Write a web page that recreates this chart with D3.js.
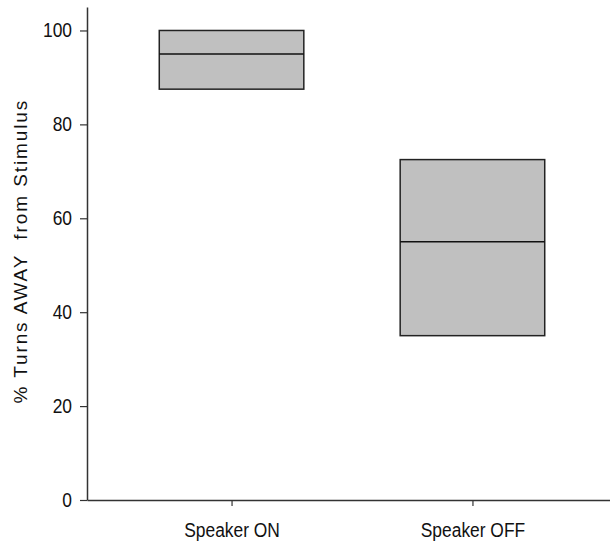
<!DOCTYPE html>
<html>
<head>
<meta charset="utf-8">
<script src="https://cdn.jsdelivr.net/npm/d3@7"></script>
<style>
  html, body { margin: 0; padding: 0; background: #fff; }
  svg { display: block; }
  text { font-family: "Liberation Sans", Arial, sans-serif; fill: #111; }
</style>
</head>
<body>
<svg id="chart" width="610" height="543"></svg>
<script>
// Condition labels and the box summaries (lower edge, median, upper edge), in %
const categories = ["Speaker ON", "Speaker OFF"];
const lows = [87.5, 35];
const medians = [95, 55];
const highs = [100, 72.5];
const yTicks = [0, 20, 40, 60, 80, 100];

const svg = d3.select("#chart");

const y = d3.scaleLinear().domain([0, 105]).range([500, 7]);
const x = d3.scaleLinear().domain([0.4, 2.6]).range([87, 617]);
const halfWidth = 0.3;

const axisColor = "#333";
// Tick labels use a horizontally condensed sans face
const squeeze = 0.87;

// Boxes
const boxes = svg.append("g")
  .selectAll("g")
  .data(categories.map((c, i) => ({ c, pos: i + 1, lo: lows[i], med: medians[i], hi: highs[i] })))
  .join("g");

boxes.append("rect")
  .attr("x", d => x(d.pos - halfWidth))
  .attr("width", d => x(d.pos + halfWidth) - x(d.pos - halfWidth))
  .attr("y", d => y(d.hi))
  .attr("height", d => y(d.lo) - y(d.hi))
  .attr("fill", "#c0c0c0")
  .attr("stroke", "#222")
  .attr("stroke-width", 1.5);

boxes.append("line")
  .attr("x1", d => x(d.pos - halfWidth))
  .attr("x2", d => x(d.pos + halfWidth))
  .attr("y1", d => y(d.med))
  .attr("y2", d => y(d.med))
  .attr("stroke", "#111")
  .attr("stroke-width", 1.5);

// Y axis
const yAxis = svg.append("g")
  .attr("transform", `translate(${x(0.4)},0)`)
  .call(d3.axisLeft(y).tickValues(yTicks).tickSize(7).tickPadding(8).tickSizeOuter(0));
yAxis.select(".domain").attr("stroke", axisColor).attr("stroke-width", 1.5);
yAxis.selectAll(".tick line").attr("stroke", axisColor).attr("stroke-width", 1.2);
yAxis.selectAll(".tick text")
  .style("font-size", "20px")
  .attr("fill", "#111")
  .attr("x", -15 / squeeze)
  .attr("transform", `scale(${squeeze},1)`);

// X axis
const xAxis = svg.append("g")
  .attr("transform", `translate(0,${y(0)})`)
  .call(d3.axisBottom(x).tickValues([1, 2]).tickFormat(d => categories[d - 1])
    .tickSize(6).tickPadding(17).tickSizeOuter(0));
xAxis.select(".domain").attr("stroke", axisColor).attr("stroke-width", 1.5);
xAxis.selectAll(".tick line").attr("stroke", axisColor).attr("stroke-width", 1.2);
xAxis.selectAll(".tick text")
  .style("font-size", "20px")
  .attr("fill", "#111")
  .attr("transform", `scale(${squeeze},1)`);

// Y axis title
svg.append("text")
  .attr("transform", `translate(27,${y(53)}) rotate(-90)`)
  .attr("text-anchor", "middle")
  .style("font-size", "19px")
  .style("letter-spacing", "1.9px")
  .style("white-space", "pre")
  .text("% Turns AWAY  from Stimulus");
</script>
</body>
</html>
